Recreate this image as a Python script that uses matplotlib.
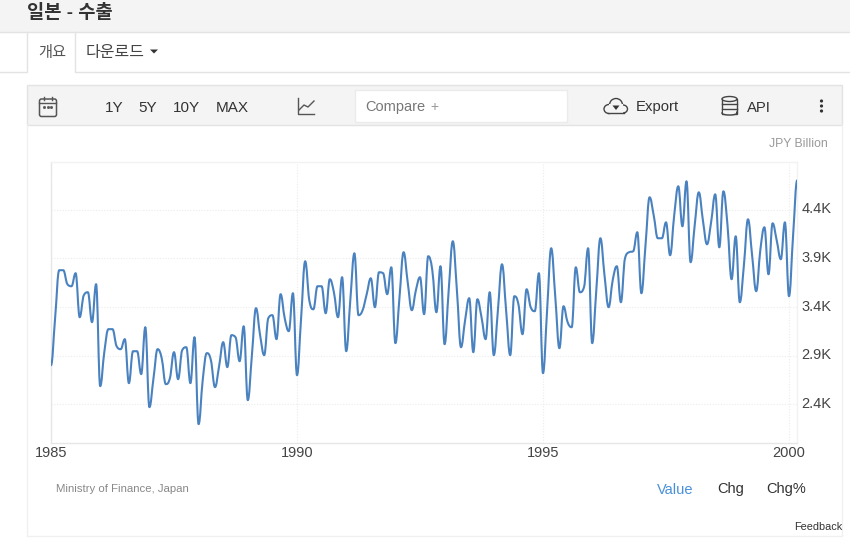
import numpy as np
import matplotlib
matplotlib.use('Agg')
import matplotlib.pyplot as plt
from matplotlib.path import Path
from matplotlib.patches import PathPatch, Rectangle, Circle, Ellipse, FancyBboxPatch
from matplotlib.transforms import offset_copy

plt.rcParams['font.family'] = ['Liberation Sans', 'Noto Sans CJK KR', 'DejaVu Sans']

# Monthly exports, JPY billion (Jan 1985 onwards)
values = [
    2801, 3285, 3779, 3779, 3635, 3614, 3748, 3295, 3521, 3552, 3244, 3635,
    2585, 2935, 3172, 3172, 2997, 2966, 3069, 2616, 2945, 2945, 2709, 3192,
    2369, 2667, 2966, 2873, 2606, 2667, 2935, 2657, 2956, 2986, 2616, 3089,
    2194, 2647, 2925, 2853, 2575, 2791, 3038, 2781, 3110, 3089, 2842, 3202,
    2441, 2904, 3388, 3110, 2904, 3285, 3316, 3069, 3532, 3285, 3151, 3542,
    2698, 3285, 3871, 3470, 3377, 3614, 3614, 3336, 3686, 3552, 3295, 3707,
    2945, 3470, 3953, 3316, 3367, 3532, 3696, 3398, 3758, 3748, 3532, 3809,
    3028, 3501, 3964, 3655, 3367, 3573, 3707, 3326, 3923, 3779, 3346, 3820,
    3017, 3573, 4077, 3573, 2986, 3264, 3491, 2935, 3480, 3295, 3069, 3552,
    2904, 3367, 3840, 3367, 2904, 3511, 3429, 3120, 3583, 3398, 3357, 3748,
    2719, 3367, 4005, 3501, 2976, 3408, 3244, 3192, 3809, 3552, 3604, 4005,
    3028, 3573, 4108, 3727, 3398, 3676, 3820, 3449, 3902, 3964, 3974, 4170,
    3542, 4036, 4530, 4344, 4108, 4108, 4272, 3933, 4344, 4643, 4231, 4694,
    3861, 4242, 4581, 4293, 4046, 4272, 4560, 4015, 4591, 4242, 3686, 4128,
    3449, 3830, 4303, 3933, 3563, 3984, 4221, 3737, 4262, 4087, 3892, 4272,
    3511, 4139, 4704,
]
y_ticks = [2400, 2900, 3400, 3900, 4400]
y_labels = ['2.4K', '2.9K', '3.4K', '3.9K', '4.4K']
x_ticks = [1985, 1990, 1995, 2000]
x_labels = ['1985', '1990', '1995', '2000']
ranges = ['1Y', '5Y', '10Y', 'MAX']
range_x = [114, 148, 186, 232]

LINE = '#4a82c0'
BORDER = '#e3e3e3'
TEXT = '#333333'

fig = plt.figure(figsize=(8.5, 5.42), dpi=100)

# page furniture, drawn in pixel coordinates
ui = fig.add_axes([0, 0, 1, 1])
ui.set_xlim(0, 850)
ui.set_ylim(542, 0)
ui.axis('off')

ui.add_patch(Rectangle((0, 0), 850, 32, fc='#f4f4f4', ec='none'))
ui.plot([0, 850], [32, 32], color=BORDER, lw=1)
ui.plot([0, 27, 27], [72, 72, 32], color=BORDER, lw=1)
ui.plot([75.5, 75.5, 850], [32, 72, 72], color=BORDER, lw=1)
ui.text(27, 13.5, '일본 - 수출', fontsize=13.5, fontweight='bold', color=TEXT, va='center')
ui.text(38, 53, '개요', fontsize=11, color='#555555', va='center')
ui.text(86, 53, '다운로드', fontsize=11.5, color='#444444', va='center')
ui.add_patch(plt.Polygon([(150, 49.5), (158, 49.5), (154, 53.5)], fc=TEXT, ec='none'))

# panel and toolbar
ui.plot([27.5, 27.5, 842, 842], [125, 535.5, 535.5, 125], color='#f0f0f0', lw=1)
ui.add_patch(Rectangle((27.5, 85), 814.5, 40, fc='#f4f4f4', ec=BORDER, lw=1))
ui.add_patch(Rectangle((355.5, 89.5), 212, 32.5, fc='white', ec='#ebebeb', lw=1))
for name, px in zip(ranges, range_x):
    ui.text(px, 107.5, name, fontsize=11, color=TEXT, ha='center', va='center')
ui.text(365, 106.5, 'Compare', fontsize=10.5, color='#777777', va='center')
ui.text(434, 107, '+', fontsize=10, color='#999999', ha='center', va='center')
ui.text(636, 106.5, 'Export', fontsize=10.7, color=TEXT, va='center')
ui.text(747, 107.5, 'API', fontsize=10.7, color=TEXT, va='center')

# calendar icon
ui.add_patch(FancyBboxPatch((39.5, 99), 17, 17.5, boxstyle='round,pad=0,rounding_size=2',
                            fc='none', ec='#555555', lw=1.1))
ui.plot([39.5, 56.5], [103, 103], color='#555555', lw=1)
ui.plot([44, 44], [97, 100], color='#555555', lw=1)
ui.plot([52, 52], [97, 100], color='#555555', lw=1)
ui.plot([44.5, 48, 51.5], [107, 107, 107], ls='none', marker='s', ms=1.0, color='#555555')

# line chart icon
ui.plot([298, 298, 314], [98, 113.5, 113.5], color='#555555', lw=1)
ui.plot([299, 304, 308, 314], [110, 105, 107, 101], color='#555555', lw=1)

# cloud icon
ui.add_patch(Ellipse((616, 105), 13, 13, fc='none', ec='#444444', lw=1))
ui.add_patch(Ellipse((609, 109), 10, 9, fc='#f4f4f4', ec='#444444', lw=1))
ui.add_patch(Ellipse((623, 109), 9, 8, fc='#f4f4f4', ec='#444444', lw=1))
ui.add_patch(Rectangle((609, 104), 14, 9, fc='#f4f4f4', ec='none'))
ui.plot([608, 624], [113.4, 113.4], color='#444444', lw=1)
ui.add_patch(plt.Polygon([(612.5, 105.5), (619.5, 105.5), (616, 110)], fc='#333333', ec='none'))

# database icon
ui.add_patch(Rectangle((722, 99), 15, 15, fc='none', ec='#444444', lw=1))
ui.add_patch(Ellipse((729.5, 99), 15, 5, fc='#f4f4f4', ec='#444444', lw=1))
ui.add_patch(Ellipse((729.5, 113), 15, 4, fc='#f4f4f4', ec='#444444', lw=1))
ui.add_patch(Rectangle((722.6, 109), 13.8, 4, fc='#f4f4f4', ec='none'))
ui.plot([722, 737], [104, 104], color='#444444', lw=1)
ui.plot([722, 737], [109, 109], color='#444444', lw=1)

# menu dots
for py in [101, 106, 111]:
    ui.add_patch(Circle((821.5, py), 1.6, fc=TEXT, ec='none'))

ui.text(828, 144, 'JPY Billion', fontsize=8.8, color='#999999', ha='right', va='center')
ui.text(56, 488.5, 'Ministry of Finance, Japan', fontsize=8.2, color='#888888', va='center')
ui.text(657, 489.5, 'Value', fontsize=10.5, color='#4a90d9', va='center')
ui.text(717, 489.5, 'Chg', fontsize=10.5, color=TEXT, va='center')
ui.text(766, 489.5, 'Chg%', fontsize=10.5, color=TEXT, va='center')
ui.text(842, 526.5, 'Feedback', fontsize=7.8, color=TEXT, ha='right', va='center')

# the chart itself
left, right, top, bottom = 51, 797, 162, 443
ax = fig.add_axes([left / 850, 1 - bottom / 542, (right - left) / 850, (bottom - top) / 542])
ax.patch.set_alpha(0)
ax.set_xlim(1985, 1985 + (right - left) / 49.2)
ax.set_ylim(2000, 4893)

dates = 1985 + np.arange(len(values)) / 12
vals = np.array(values, dtype=float)


# same control points as a Highcharts spline (smoothing 1.5, clamped at the neighbours)
def controls(i):
    dx = dates[1] - dates[0]
    y = vals[i]
    y0 = vals[max(i - 1, 0)]
    y1 = vals[min(i + 1, len(vals) - 1)]
    lc = (1.5 * y + y0) / 2.5
    rc = (1.5 * y + y1) / 2.5
    shift = (rc - lc) * 0.5 + y - rc
    lc += shift
    rc += shift
    if lc > max(y0, y):
        lc = max(y0, y)
        rc = 2 * y - lc
    elif lc < min(y0, y):
        lc = min(y0, y)
        rc = 2 * y - lc
    if rc > max(y1, y):
        rc = max(y1, y)
        lc = 2 * y - rc
    elif rc < min(y1, y):
        rc = min(y1, y)
        lc = 2 * y - rc
    return (dates[i] - 0.4 * dx, lc), (dates[i] + 0.4 * dx, rc)


verts = [(dates[0], vals[0])]
codes = [Path.MOVETO]
for i in range(len(vals) - 1):
    verts += [controls(i)[1], controls(i + 1)[0], (dates[i + 1], vals[i + 1])]
    codes += [Path.CURVE4] * 3
ax.add_patch(PathPatch(Path(verts, codes), fc='none', ec=LINE, lw=1.5, capstyle='round',
                       joinstyle='round', zorder=3))

ax.set_xticks(x_ticks)
ax.set_xticklabels(x_labels)
ax.set_yticks(y_ticks)
ax.set_yticklabels(y_labels)
ax.yaxis.tick_right()
ax.tick_params(axis='both', length=0, labelsize=10.5, labelcolor='#444444')
ax.tick_params(axis='x', pad=2)
ax.tick_params(axis='y', pad=3)
ax.grid(True, color='#ececec', lw=0.8, ls=(0, (1, 1.5)))
ax.set_axisbelow(True)
for side, sp in ax.spines.items():
    sp.set_color('#e6e6e6' if side in ('left', 'bottom') else '#f2f2f2')
    sp.set_linewidth(1)

# y labels sit a little above their grid lines
fig.canvas.draw()
for lab in ax.get_yticklabels():
    lab.set_verticalalignment('center')
    lab.set_transform(offset_copy(lab.get_transform(), fig=fig, y=0.5, units='dots'))

fig.savefig('out.png', dpi=100)
